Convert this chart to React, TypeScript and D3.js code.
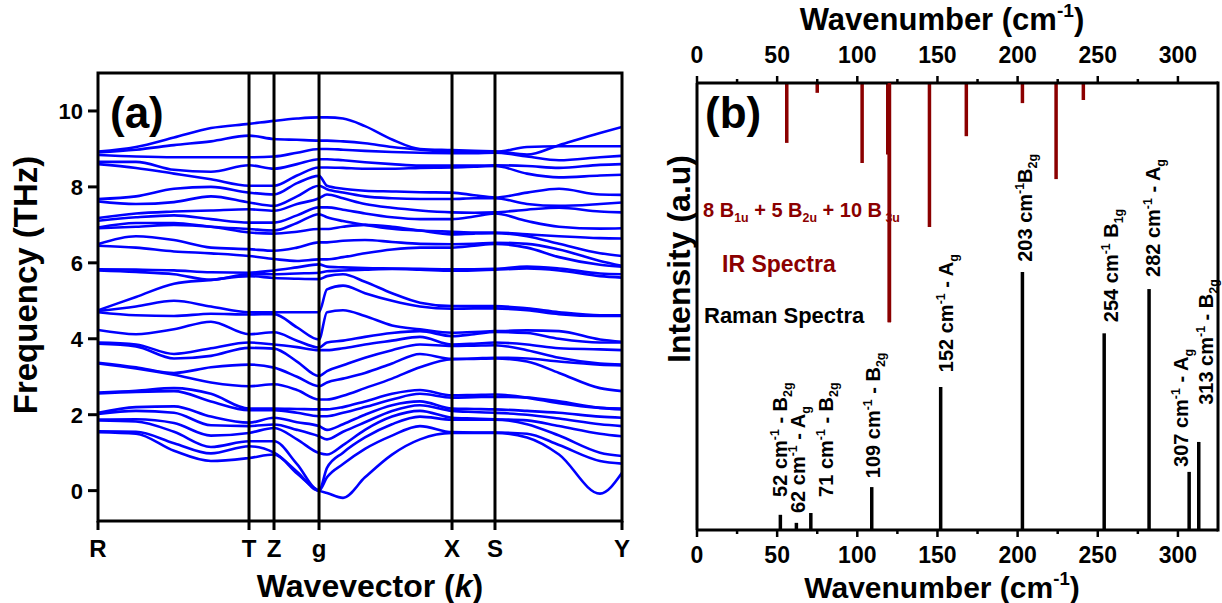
import React from 'react';
import * as d3 from 'd3';

// ---------- Panel (a): phonon band structure ----------
const kLabels = ['R', 'T', 'Z', 'g', 'X', 'S', 'Y'];
const kLabelPos = [0, 0.2882, 0.3359, 0.4218, 0.6756, 0.7576, 1.0];
const kSamples = [0, 0.0725, 0.145, 0.2156, 0.2882, 0.3359, 0.3798, 0.4218, 0.437, 0.4676, 0.5095, 0.5611, 0.6145, 0.6756, 0.7176, 0.7576, 0.8187, 0.8798, 0.958, 1.0];
const freqTicks = [0, 2, 4, 6, 8, 10];

const band01 = [1.54, 1.50, 1.05, 0.78, 0.86, 0.95, 0.45, 0.00, -0.06, -0.19, 0.35, 0.95, 1.35, 1.52, 1.52, 1.52, 1.40, 0.95, -0.08, 0.47];
const band02 = [1.56, 1.55, 1.25, 0.98, 1.17, 1.00, 0.50, 0.00, 0.35, 0.70, 1.10, 1.45, 1.70, 1.54, 1.53, 1.53, 1.50, 1.20, 0.78, 0.71];
const band03 = [1.85, 1.82, 1.55, 1.15, 1.30, 1.30, 0.70, 0.00, 0.60, 1.00, 1.40, 1.75, 1.95, 1.87, 1.87, 1.87, 1.75, 1.45, 1.00, 0.91];
const band04 = [1.87, 1.88, 1.78, 1.45, 1.52, 1.65, 1.35, 0.99, 0.95, 1.20, 1.60, 1.95, 2.10, 1.92, 1.90, 1.88, 1.85, 1.70, 1.50, 1.43];
const band05 = [2.02, 2.10, 2.05, 1.72, 1.70, 1.74, 1.60, 1.43, 1.35, 1.55, 1.80, 2.10, 2.25, 2.10, 2.07, 2.05, 2.00, 1.90, 1.75, 1.70];
const band06 = [2.05, 2.20, 2.22, 1.95, 1.79, 1.92, 1.80, 1.70, 1.60, 1.75, 2.00, 2.25, 2.35, 2.16, 2.15, 2.14, 2.10, 2.05, 1.95, 1.92];
const band07 = [2.56, 2.60, 2.62, 2.35, 2.12, 2.12, 2.05, 1.96, 1.96, 2.05, 2.20, 2.40, 2.55, 2.45, 2.46, 2.47, 2.45, 2.35, 2.18, 2.14];
const band08 = [2.58, 2.63, 2.70, 2.55, 2.16, 2.16, 2.15, 2.14, 2.14, 2.20, 2.35, 2.55, 2.65, 2.51, 2.52, 2.53, 2.45, 2.30, 2.18, 2.16];
const band09 = [3.35, 3.22, 3.05, 2.85, 2.75, 2.80, 2.65, 2.40, 2.40, 2.50, 2.70, 2.95, 3.25, 3.46, 3.47, 3.48, 3.40, 3.10, 2.70, 2.62];
const band10 = [3.37, 3.25, 3.10, 3.25, 3.32, 3.24, 3.00, 2.75, 2.85, 2.95, 3.10, 3.35, 3.60, 3.47, 3.48, 3.50, 3.48, 3.40, 3.32, 3.30];
const band11 = [3.87, 3.80, 3.48, 3.55, 3.76, 3.74, 3.40, 3.02, 3.15, 3.30, 3.50, 3.70, 3.85, 3.81, 3.82, 3.83, 3.70, 3.50, 3.35, 3.32];
const band12 = [3.90, 3.85, 3.60, 3.75, 3.90, 3.85, 3.78, 3.70, 3.70, 3.75, 3.85, 3.95, 4.05, 3.85, 3.87, 3.90, 3.85, 3.75, 3.72, 3.70];
const band13 = [4.23, 4.12, 4.25, 4.45, 4.12, 4.17, 3.95, 3.77, 3.90, 3.95, 4.05, 4.15, 4.20, 4.07, 4.12, 4.18, 4.15, 4.00, 3.90, 3.90];
const band14 = [4.70, 4.62, 4.60, 4.66, 4.64, 4.65, 4.30, 3.98, 4.70, 4.75, 4.60, 4.35, 4.25, 4.16, 4.18, 4.20, 4.22, 4.20, 3.98, 3.92];
const band15 = [4.73, 4.85, 5.00, 4.85, 4.70, 4.70, 4.70, 4.70, 5.30, 5.40, 5.20, 5.00, 4.85, 4.79, 4.80, 4.80, 4.75, 4.65, 4.60, 4.60];
const band16 = [4.75, 5.10, 5.45, 5.55, 5.65, 5.60, 5.58, 5.57, 5.65, 5.70, 5.50, 5.20, 4.95, 4.86, 4.86, 4.86, 4.80, 4.70, 4.62, 4.62];
const band17 = [5.80, 5.76, 5.70, 5.55, 5.70, 5.70, 5.72, 5.74, 5.78, 5.80, 5.82, 5.84, 5.82, 5.79, 5.80, 5.82, 5.85, 5.80, 5.65, 5.61];
const band18 = [5.83, 5.82, 5.80, 5.75, 5.74, 5.80, 5.88, 5.96, 5.90, 5.88, 5.86, 5.85, 5.84, 5.83, 5.83, 5.84, 5.90, 5.85, 5.72, 5.70];
const band19 = [6.45, 6.40, 6.30, 6.25, 6.18, 6.10, 6.05, 6.09, 6.09, 6.15, 6.25, 6.35, 6.40, 6.40, 6.45, 6.50, 6.40, 6.15, 5.95, 5.90];
const band20 = [6.49, 6.70, 6.60, 6.40, 6.36, 6.32, 6.40, 6.54, 6.54, 6.58, 6.60, 6.55, 6.50, 6.49, 6.50, 6.53, 6.50, 6.35, 6.05, 5.92];
const band21 = [6.91, 6.95, 7.00, 6.95, 6.80, 6.77, 6.82, 6.89, 6.89, 6.95, 7.00, 6.95, 6.85, 6.75, 6.77, 6.78, 6.70, 6.50, 6.25, 6.18];
const band22 = [6.93, 7.05, 7.05, 6.95, 6.89, 6.85, 7.05, 7.28, 7.20, 7.10, 7.00, 6.90, 6.85, 6.82, 6.80, 6.80, 6.75, 6.70, 6.65, 6.64];
const band23 = [7.11, 7.20, 7.25, 7.15, 7.06, 7.06, 7.25, 7.46, 7.46, 7.40, 7.30, 7.20, 7.15, 7.15, 7.22, 7.30, 7.10, 6.95, 6.90, 6.91];
const band24 = [7.18, 7.30, 7.35, 7.38, 7.41, 7.37, 7.55, 7.70, 7.80, 7.70, 7.55, 7.45, 7.38, 7.33, 7.32, 7.33, 7.40, 7.45, 7.35, 7.33];
const band25 = [7.62, 7.55, 7.60, 7.75, 7.59, 7.50, 7.75, 8.03, 7.94, 7.85, 7.75, 7.70, 7.68, 7.68, 7.70, 7.70, 7.55, 7.50, 7.55, 7.59];
const band26 = [7.68, 7.75, 7.95, 8.00, 7.85, 7.80, 8.10, 8.29, 8.03, 7.95, 7.90, 7.88, 7.86, 7.85, 7.78, 7.72, 7.85, 7.95, 7.80, 7.79];
const band27 = [8.60, 8.50, 8.35, 8.20, 8.03, 8.03, 8.30, 8.51, 8.51, 8.50, 8.48, 8.48, 8.50, 8.51, 8.53, 8.55, 8.35, 8.25, 8.30, 8.32];
const band28 = [8.66, 8.66, 8.45, 8.40, 8.57, 8.48, 8.60, 8.73, 8.73, 8.70, 8.65, 8.60, 8.56, 8.56, 8.56, 8.57, 8.55, 8.50, 8.58, 8.60];
const band29 = [8.84, 8.80, 8.78, 8.78, 8.78, 8.80, 8.90, 9.00, 9.00, 8.98, 8.95, 8.92, 8.90, 8.89, 8.89, 8.90, 8.80, 8.70, 8.78, 8.82];
const band30 = [8.91, 8.98, 9.10, 9.20, 9.35, 9.26, 9.24, 9.22, 9.22, 9.20, 9.15, 9.05, 8.98, 8.93, 8.92, 8.92, 9.05, 9.07, 9.07, 9.07];
const band31 = [8.93, 9.05, 9.30, 9.55, 9.66, 9.74, 9.80, 9.83, 9.83, 9.80, 9.60, 9.25, 9.00, 8.97, 8.95, 8.94, 8.85, 9.10, 9.42, 9.58];

const bands = [band01, band02, band03, band04, band05, band06, band07, band08, band09, band10,
  band11, band12, band13, band14, band15, band16, band17, band18, band19, band20,
  band21, band22, band23, band24, band25, band26, band27, band28, band29, band30, band31];

// ---------- Panel (b): Raman / IR spectra ----------
const ramanWavenumbers = [52, 62, 71, 109, 152, 203, 254, 282, 307, 313];
const ramanIntensity = [0.034, 0.016, 0.038, 0.096, 0.32, 0.577, 0.44, 0.539, 0.13, 0.197];
const ramanModes = [['B', '2g'], ['A', 'g'], ['B', '2g'], ['B', '2g'], ['A', 'g'], ['B', '2g'], ['B', '1g'], ['A', 'g'], ['A', 'g'], ['B', '2g']];
const ramanSeparators = [' - ', ' - ', ' - ', ' - ', ' - ', '', ' ', ' - ', ' - ', ' - '];
// label anchor in data units: [wavenumber, intensity]
const ramanLabelAnchor = [[56.1, 0.074], [67.4, 0.038], [84.8, 0.074], [114.1, 0.116], [159.7, 0.353], [209.0, 0.6], [262.6, 0.465], [288.8, 0.566], [306.3, 0.141], [321.9, 0.28]];

const irWavenumbers = [56, 75, 103, 119, 120, 145, 168, 203, 224, 241];
const irIntensity = [0.134, 0.022, 0.179, 0.16, 0.535, 0.322, 0.119, 0.045, 0.215, 0.038];

const wnTicks = [0, 50, 100, 150, 200, 250, 300];
const wnMinorTicks = [25, 75, 125, 175, 225, 275];

const FONT = "'Liberation Sans', Arial, Helvetica, sans-serif";
const BLUE = '#0000ff';
const DARKRED = '#8b0000';

type Part = { t: string; s?: 'sup' | 'sub' };

function Rich({ parts, size }: { parts: Part[]; size: number }) {
  let cur = 0;
  return (
    <>
      {parts.map((p, i) => {
        const target = p.s === 'sup' ? -0.42 * size : p.s === 'sub' ? 0.27 * size : 0;
        const dy = target - cur;
        cur = target;
        return (
          <tspan key={i} dy={dy} fontSize={p.s ? size * 0.62 : size} style={{ whiteSpace: 'pre' }}>
            {p.t}
          </tspan>
        );
      })}
    </>
  );
}

export default function App() {
  // panel a scales
  const xA = d3.scaleLinear().domain([0, 1]).range([98, 622]);
  const yA = d3.scaleLinear().domain([-0.8, 11]).range([521, 73]);
  const bandLine = d3
    .line<number>()
    .x((_, i) => xA(kSamples[i]))
    .y((d) => yA(d))
    .curve(d3.curveMonotoneX);

  // panel b scales
  const xB = d3.scaleLinear().domain([0, 325]).range([697, 1218]);
  const yB = d3.scaleLinear().domain([0, 1]).range([530, 83]);
  const yIR = d3.scaleLinear().domain([0, 1]).range([83, 530]);

  const [aL, aR] = xA.range();
  const aT = yA(11), aB = yA(-0.8);
  const [bL, bR] = xB.range();
  const bT = yB(1), bB = yB(0);

  const wnTitle: Part[] = [{ t: 'Wavenumber (cm' }, { t: '-1', s: 'sup' }, { t: ')' }];

  return (
    <svg width={1222} height={603} style={{ position: 'absolute', left: 0, top: 0, background: '#fff' }} fontFamily={FONT} fontWeight="bold">
      <rect x={0} y={0} width={1222} height={603} fill="#fff" />
      <defs>
        <clipPath id="clipA">
          <rect x={aL} y={aT} width={aR - aL} height={aB - aT} />
        </clipPath>
      </defs>

      {/* ---------- Panel a ---------- */}
      <g clipPath="url(#clipA)">
        {bands.map((b, i) => (
          <path key={i} d={bandLine(b) || ''} fill="none" stroke={BLUE} strokeWidth={2.6} strokeLinejoin="round" />
        ))}
      </g>
      {kLabelPos.slice(1, -1).map((k, i) => (
        <line key={i} x1={xA(k)} x2={xA(k)} y1={aT} y2={aB} stroke="#000" strokeWidth={3} />
      ))}
      <rect x={aL} y={aT} width={aR - aL} height={aB - aT} fill="none" stroke="#000" strokeWidth={3} />
      {freqTicks.map((f) => (
        <g key={f}>
          <line x1={aL - 10} x2={aL} y1={yA(f)} y2={yA(f)} stroke="#000" strokeWidth={3} />
          <text x={aL - 15} y={yA(f)} dy="0.36em" textAnchor="end" fontSize={22}>{f}</text>
        </g>
      ))}
      {kLabelPos.map((k, i) => (
        <g key={i}>
          <line x1={xA(k)} x2={xA(k)} y1={aB} y2={aB + 9} stroke="#000" strokeWidth={3} />
          <text x={xA(k)} y={557} textAnchor="middle" fontSize={24}>{kLabels[i]}</text>
        </g>
      ))}
      <text x={110} y={128} fontSize={44}>(a)</text>
      <text transform={`translate(37,285) rotate(-90)`} textAnchor="middle" fontSize={33}>Frequency (THz)</text>
      <text x={370} y={597} textAnchor="middle" fontSize={32}>
        Wavevector (<tspan fontStyle="italic">k</tspan>)
      </text>

      {/* ---------- Panel b ---------- */}
      {irWavenumbers.map((w, i) => (
        <line key={'ir' + i} x1={xB(w)} x2={xB(w)} y1={bT} y2={yIR(irIntensity[i])} stroke={DARKRED} strokeWidth={3.5} />
      ))}
      {ramanWavenumbers.map((w, i) => (
        <line key={'ra' + i} x1={xB(w)} x2={xB(w)} y1={bB} y2={yB(ramanIntensity[i])} stroke="#000" strokeWidth={3.5} />
      ))}
      <line x1={bL} x2={bR} y1={bT} y2={bT} stroke="#000" strokeWidth={3} />
      <line x1={bL} x2={bR} y1={bB} y2={bB} stroke="#000" strokeWidth={3} />
      <line x1={bL} x2={bL} y1={bT} y2={bB} stroke="#000" strokeWidth={3} />
      <line x1={bR} x2={bR} y1={bT - 1.5} y2={bB + 1.5} stroke="#000" strokeWidth={3} />
      {wnTicks.map((t) => (
        <g key={'t' + t}>
          <line x1={xB(t)} x2={xB(t)} y1={bT} y2={bT - 7} stroke="#000" strokeWidth={2.5} />
          <line x1={xB(t)} x2={xB(t)} y1={bB} y2={bB + 7} stroke="#000" strokeWidth={2.5} />
          <text x={xB(t)} y={63} textAnchor="middle" fontSize={23}>{t}</text>
          <text x={xB(t)} y={563} textAnchor="middle" fontSize={23}>{t}</text>
        </g>
      ))}
      {wnMinorTicks.map((t) => (
        <g key={'m' + t}>
          <line x1={xB(t)} x2={xB(t)} y1={bT} y2={bT - 4} stroke="#000" strokeWidth={2.5} />
          <line x1={xB(t)} x2={xB(t)} y1={bB} y2={bB + 4} stroke="#000" strokeWidth={2.5} />
        </g>
      ))}
      <text x={942} y={30} textAnchor="middle" fontSize={31}>
        <Rich parts={wnTitle} size={31} />
      </text>
      <text x={942} y={598} textAnchor="middle" fontSize={30}>
        <Rich parts={wnTitle} size={30} />
      </text>
      <text transform={`translate(690,259) rotate(-90)`} textAnchor="middle" fontSize={32}>Intensity (a.u)</text>
      <text x={705} y={128} fontSize={44}>(b)</text>

      <text x={703} y={217} fontSize={20} fill={DARKRED}>
        <Rich
          parts={[
            { t: '8 B' }, { t: '1u', s: 'sub' }, { t: ' + 5 B' }, { t: '2u', s: 'sub' }, { t: ' + 10 B' }, { t: ' 3u', s: 'sub' },
          ]}
          size={20}
        />
      </text>
      <text x={722} y={272} fontSize={23} fill={DARKRED}>IR Spectra</text>
      <text x={704} y={323} fontSize={22} fill="#000">Raman Spectra</text>
      {/* the long IR line lies over its label, as in the figure */}
      <line x1={xB(irWavenumbers[4])} x2={xB(irWavenumbers[4])} y1={bT} y2={yIR(irIntensity[4])} stroke={DARKRED} strokeWidth={3.5} />

      {ramanWavenumbers.map((w, i) => {
        const [lx, ly] = ramanLabelAnchor[i];
        const parts: Part[] = [
          { t: `${w} cm` }, { t: '-1', s: 'sup' }, { t: `${ramanSeparators[i]}${ramanModes[i][0]}` }, { t: ramanModes[i][1], s: 'sub' },
        ];
        return (
          <text key={'rl' + i} transform={`translate(${xB(lx)},${yB(ly)}) rotate(-90)`} fontSize={20}>
            <Rich parts={parts} size={20} />
          </text>
        );
      })}
    </svg>
  );
}
